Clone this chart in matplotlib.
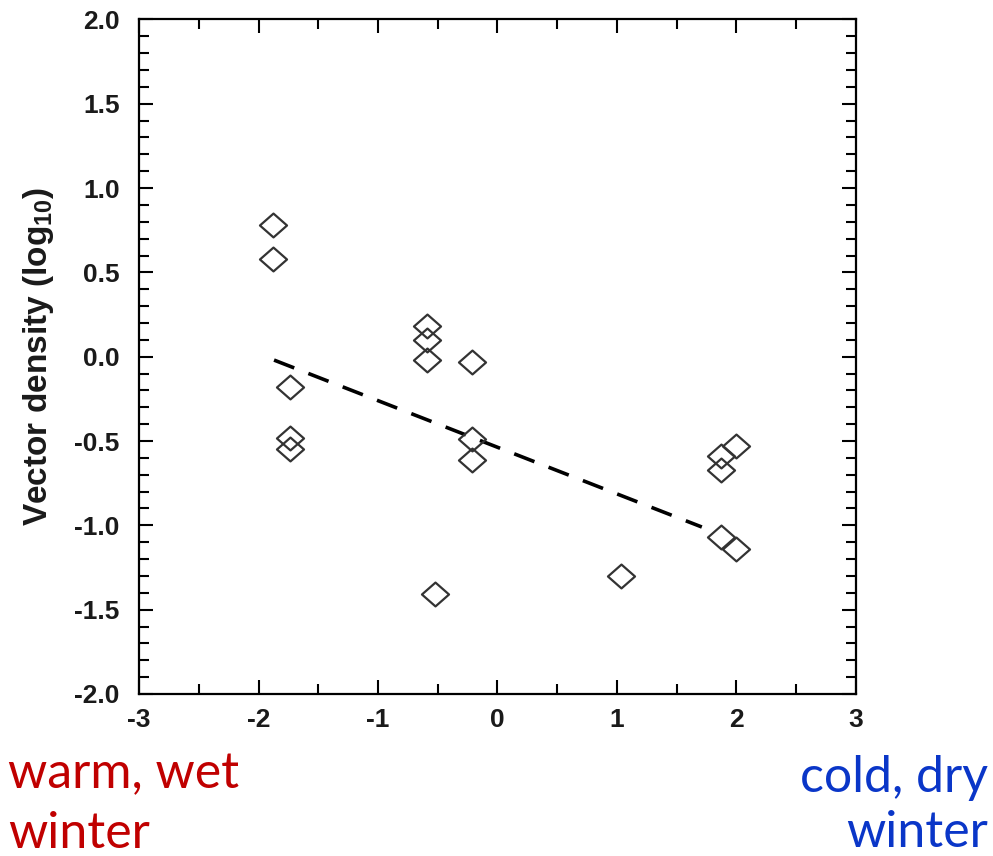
import matplotlib
matplotlib.use("Agg")
import matplotlib.pyplot as plt
from matplotlib.path import Path
from matplotlib.ticker import MultipleLocator
import numpy as np

plt.rcParams['axes.unicode_minus'] = False
plt.rcParams['mathtext.fontset'] = 'custom'
plt.rcParams['mathtext.bf'] = 'Liberation Sans:bold'
plt.rcParams['mathtext.rm'] = 'Liberation Sans:bold'

# Data
climate_index = [-1.88, -1.88, -1.74, -1.74, -1.74, -0.59, -0.59, -0.59, -0.21, -0.21, -0.21,
                 -0.52, 1.03, 1.87, 1.87, 1.87, 2.00, 2.00]
vector_density = [0.78, 0.58, -0.18, -0.48, -0.55, 0.18, 0.10, -0.02, -0.03, -0.49, -0.61,
                  -1.41, -1.30, -0.59, -0.67, -1.07, -0.53, -1.14]
fit_x = [-1.87, 1.71]
fit_y = [-0.02, -1.01]

x_ticks = [-3, -2, -1, 0, 1, 2, 3]
y_ticks = [-2.0, -1.5, -1.0, -0.5, 0.0, 0.5, 1.0, 1.5, 2.0]

fig = plt.figure(figsize=(9.93, 8.56), dpi=100)
ax = fig.add_axes([0.140, 0.1893, 0.722, 0.788])

diamond = Path([(-1, 0), (0, 0.88), (1, 0), (0, -0.88), (-1, 0)],
               [Path.MOVETO, Path.LINETO, Path.LINETO, Path.LINETO, Path.CLOSEPOLY])

ax.plot(fit_x, fit_y, color='black', lw=2.6, dashes=(6, 4.2), zorder=2)
ax.plot(climate_index, vector_density, linestyle='none', marker=diamond, ms=19.5,
        mfc='none', mec='#333333', mew=1.6, zorder=3)

ax.set_xlim(-3, 3)
ax.set_ylim(-2, 2)
ax.set_xticks(x_ticks)
ax.set_yticks(y_ticks)
ax.set_xticklabels([f"{v:d}" for v in x_ticks])
ax.set_yticklabels([f"{v:.1f}" for v in y_ticks])
ax.xaxis.set_minor_locator(MultipleLocator(0.5))
ax.yaxis.set_minor_locator(MultipleLocator(0.1))

ax.tick_params(which='both', direction='in', top=True, right=True, color='black', width=1.5)
ax.tick_params(which='major', length=10)
ax.tick_params(which='minor', length=7)
ax.tick_params(axis='x', which='major', pad=10)
ax.tick_params(axis='y', which='major', pad=14)
for lbl in ax.get_xticklabels() + ax.get_yticklabels():
    lbl.set_fontfamily('Liberation Sans')
    lbl.set_fontweight('bold')
    lbl.set_fontsize(19)
    lbl.set_color('#1a1a1a')
for s in ax.spines.values():
    s.set_linewidth(1.6)

ax.set_ylabel('Vector density (log$_{\\mathbf{10}}$)', fontfamily='Liberation Sans',
              fontweight='bold', fontsize=24, color='#1a1a1a', labelpad=13)

fig.text(8 / 993, 1 - 788 / 856, 'warm, wet', color='#C00000', fontfamily='Lato',
         fontsize=36, ha='left', va='baseline')
fig.text(8 / 993, 1 - 848 / 856, 'winter', color='#C00000', fontfamily='Lato',
         fontsize=36, ha='left', va='baseline')
fig.text(988 / 993, 1 - 792 / 856, 'cold, dry', color='#0A36C8', fontfamily='Lato',
         fontsize=36, ha='right', va='baseline')
fig.text(988 / 993, 1 - 847 / 856, 'winter', color='#0A36C8', fontfamily='Lato',
         fontsize=36, ha='right', va='baseline')

fig.savefig('out.png', dpi=100)
